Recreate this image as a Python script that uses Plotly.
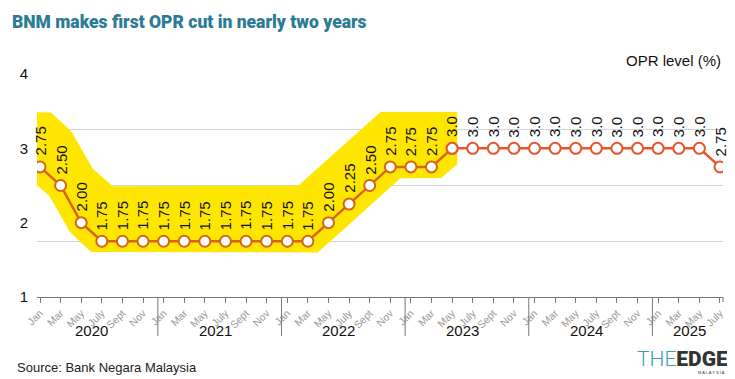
import numpy as np
import plotly.graph_objects as go

# ---- data ----
YEARS = [2020, 2021, 2022, 2023, 2024, 2025]
MONTHS = ["Jan", "Mar", "May", "July", "Sept", "Nov"]
OPR = [2.75, 2.50, 2.00, 1.75, 1.75, 1.75,          # 2020
       1.75, 1.75, 1.75, 1.75, 1.75, 1.75,          # 2021
       1.75, 1.75, 2.00, 2.25, 2.50, 2.75,          # 2022
       2.75, 2.75, 3.00, 3.00, 3.00, 3.00,          # 2023
       3.00, 3.00, 3.00, 3.00, 3.00, 3.00,          # 2024
       3.00, 3.00, 3.00, 2.75]                      # 2025
Y_TICKS = [1, 2, 3, 4]

n = len(OPR)
idx = np.arange(n)
month_labels = [MONTHS[i % len(MONTHS)] for i in range(n)]
year_of = [YEARS[i // len(MONTHS)] for i in range(n)]
point_labels = ["3.0" if v == 3 else f"{v:.2f}" for v in OPR]

FONT = "Liberation Sans, Arial, Helvetica, sans-serif"
HEAVY = "Roboto, Liberation Sans, sans-serif"
LINE_HL = "#D4661B"
LINE = "#E8552C"
YELLOW = "#FFE600"

# highlight band: from start to first time the rate reaches its peak
hl_end = int(np.argmax(np.array(OPR)))
rates_hl = np.array(OPR[:hl_end + 1])
idx_hl = idx[:hl_end + 1]
h = 0.5
xs = np.linspace(-0.73, hl_end + 0.25, 700)
upper, lower = [], []
for x in xs:
    w = np.clip(np.linspace(x - h, x + h, 41), 0, hl_end)
    f = np.interp(w, idx_hl, rates_hl)
    upper.append(min(f.max() + 0.74, OPR[0] + 0.74))
    lower.append(f.min() - 0.15)
poly_x = np.concatenate([xs, xs[::-1]])
poly_y = np.concatenate([upper, lower[::-1]])

fig = go.Figure()
fig.add_trace(go.Scatter(x=poly_x, y=poly_y, fill="toself", fillcolor=YELLOW,
                         mode="lines", line=dict(width=0), hoverinfo="skip",
                         showlegend=False))
fig.add_trace(go.Scatter(x=idx[:hl_end + 1], y=OPR[:hl_end + 1], mode="lines+markers",
                         line=dict(color=LINE_HL, width=2.5),
                         marker=dict(size=11, color="white", line=dict(color=LINE_HL, width=2)),
                         showlegend=False))
fig.add_trace(go.Scatter(x=idx[hl_end:], y=OPR[hl_end:], mode="lines+markers",
                         line=dict(color=LINE, width=2.5),
                         marker=dict(size=11, color="white", line=dict(color=LINE, width=2)),
                         showlegend=False))

# page body has an 8px margin: figure origin sits at (8, 8) of the window
OFF = 8
W, H = 735 - OFF, 379 - OFF
ML, MR, MT, MB = 37 - OFF, 12, 74 - OFF, 82
pw, ph = W - ML - MR, H - MT - MB


def px(x):  # window pixel -> paper
    return (x - OFF - ML) / pw


def py(y):
    return (H - MB - (y - OFF)) / ph


ann = []
for i, (v, t) in enumerate(zip(OPR, point_labels)):
    ann.append(dict(x=i, y=v, xref="x", yref="y", text=t, showarrow=False,
                    textangle=-90, xanchor="center", yanchor="bottom", yshift=9,
                    font=dict(family=FONT, size=15, color="#111")))

# year labels and separators
shapes = []
for k, yr in enumerate(YEARS):
    members = [i for i in range(n) if year_of[i] == yr]
    ann.append(dict(x=float(np.mean(members)), y=0, xref="x", yref="paper", yshift=-33,
                    text=str(yr), showarrow=False, yanchor="middle",
                    font=dict(family=FONT, size=15, color="#111")))
    if k > 0:
        xsep = members[0] - 0.28
        shapes.append(dict(type="line", xref="x", yref="paper", x0=xsep, x1=xsep,
                           y0=0, y1=py(336), line=dict(color="#777", width=1)))
shapes.append(dict(type="line", xref="paper", yref="paper", x0=1, x1=1,
                   y0=0, y1=py(302), line=dict(color="#777", width=1)))

ann += [
    dict(x=px(10), y=py(22), xref="paper", yref="paper",
         text="BNM makes first OPR cut in nearly two years",
         showarrow=False, xanchor="left", yanchor="middle",
         font=dict(family=HEAVY, size=17.5, color="#2B7B94", weight=900)),
    dict(x=px(723), y=py(60), xref="paper", yref="paper", text="OPR level (%)", showarrow=False,
         xanchor="right", yanchor="middle", font=dict(family=FONT, size=15, color="#111")),
    dict(x=px(15), y=py(367), xref="paper", yref="paper", text="Source: Bank Negara Malaysia",
         showarrow=False, xanchor="left", yanchor="middle",
         font=dict(family=FONT, size=13, color="#222")),
    dict(x=px(730), y=py(359), xref="paper", yref="paper",
         text="<span style='color:#3A9BB5;font-weight:300'>THE</span>EDGE", showarrow=False,
         xanchor="right", yanchor="middle", font=dict(family=HEAVY, size=21, color="#333", weight=900)),
    dict(x=px(727), y=py(372), xref="paper", yref="paper", text="M A L A Y S I A", showarrow=False,
         xanchor="right", yanchor="middle", font=dict(family=FONT, size=4, color="#333")),
]

fig.update_layout(
    template="none",
    width=W, height=H, margin=dict(l=ML, r=MR, t=MT, b=MB, autoexpand=False),
    paper_bgcolor="white", plot_bgcolor="white",
    font=dict(family=FONT),
    xaxis=dict(range=[-0.146, n - 1 + 0.146], tickmode="array", tickvals=list(idx),
               ticktext=month_labels, tickangle=-45, automargin=False,
               tickfont=dict(family=FONT, size=10.5, color="#9a9a9a"),
               ticks="outside", ticklen=5, tickcolor="#777", showline=True,
               linecolor="#777", linewidth=1, showgrid=False, zeroline=False),
    yaxis=dict(range=[1, 4], tickmode="array", tickvals=Y_TICKS, automargin=False,
               tickfont=dict(family=FONT, size=15, color="#111"),
               showgrid=False, zeroline=False, showline=False, ticks="",
               ticklabelstandoff=8,
               minor=dict(tick0=1, dtick=0.75, showgrid=True, gridcolor="#d4d4d4", gridwidth=1)),
    annotations=ann, shapes=shapes,
)

fig.write_html("out.html")
